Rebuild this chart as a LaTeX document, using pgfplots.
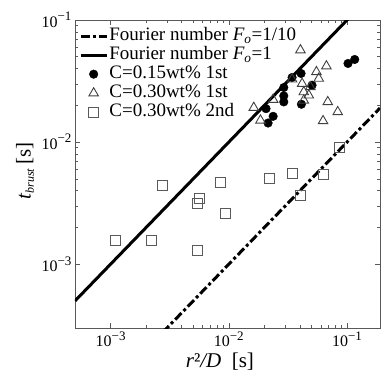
\documentclass[border=0pt]{standalone}
\usepackage{fontspec}
\setmainfont{Liberation Serif}
\usepackage{pgfplots}
\pgfplotsset{compat=1.18}
\newcommand{\legfont}{\fontsize{19}{21}\selectfont}
\newcommand{\tkl}[1]{10\raisebox{0.42em}{\fontsize{13}{13}\selectfont −#1}}
\pgfplotsset{
  linelegend/.style={legend image code/.code={\draw[##1] (0pt,0pt) -- (26pt,0pt);}},
  marklegend/.style={legend image code/.code={\draw[##1] plot coordinates {(13pt,0pt)};}},
}
\begin{document}
\begin{tikzpicture}[x=1pt,y=1pt]
\begin{axis}[
  scale only axis,
  width=305pt, height=308pt,
  xmode=log, ymode=log,
  xmin=5e-4, xmax=0.19, ymin=3e-4, ymax=0.1,
  xtick={0.001,0.01,0.1}, ytick={0.001,0.01,0.1},
  xticklabels={\tkl{3},\tkl{2},\tkl{1}},
  yticklabels={\tkl{3},\tkl{2},\tkl{1}},
  tick label style={font=\fontsize{16}{18}\selectfont, text=black},
  tick align=inside,
  major tick length=5pt, minor tick length=3pt,
  axis line style={gray!70!black, line width=0.8pt},
  tick style={gray!70!black, line width=0.6pt},
  xlabel={\textit{r}²\textit{/D}\hspace{0.5em}[s]},
  ylabel={\textit{t\textsubscript{\fontsize{12}{13}\selectfont brust}}\,[s]},
  label style={font=\fontsize{21}{23}\selectfont},
  xlabel style={at={(axis description cs:0.475,0)}, anchor=center, yshift=-34pt},
  ylabel style={at={(axis description cs:0,0.51)}, anchor=center, yshift=50pt},
  legend style={at={(0.013,0.978)}, anchor=north west, draw=none, fill=none,
    inner sep=0pt, row sep=0.6pt,
    nodes={inner sep=1.2pt, text height=12.5pt, text depth=3.5pt}},
  legend cell align=left,
  clip=true,
]
\addplot[black, line width=3pt, dash pattern=on 9pt off 3pt on 3pt off 3pt, linelegend] coordinates {(5e-4,5e-5) (0.19,0.019)};
\addlegendentry{\legfont Fourier number \textit{F\textsubscript{o}}=1/10}
\addplot[black, line width=3pt, linelegend] coordinates {(5e-4,5e-4) (0.19,0.19)};
\addlegendentry{\legfont Fourier number \textit{F\textsubscript{o}}=1}
\addplot[only marks, mark=*, mark size=4.3pt, black, mark options={fill=black}, marklegend] coordinates {
(0.02064,0.01879) (0.02148,0.01433) (0.02371,0.01626) (0.02917,0.02800)
(0.02917,0.02390) (0.02917,0.02134) (0.03428,0.03381) (0.04083,0.03648)
(0.04112,0.02042) (0.05058,0.02924) (0.1019,0.04406) (0.1161,0.04750)};
\addlegendentry{\legfont C=0.15wt\% 1st}
\addplot[only marks, mark=triangle, mark size=5.5pt, black!75, mark options={line width=0.9pt}, marklegend] coordinates {
(0.01626,0.01914) (0.01853,0.01507) (0.02371,0.02229) (0.03428,0.03273)
(0.04035,0.05666) (0.04168,0.03012) (0.04305,0.02574) (0.04305,0.02198)
(0.04745,0.02421) (0.04898,0.02831) (0.05508,0.03758) (0.05767,0.03316)
(0.06689,0.04188) (0.06870,0.02134) (0.08341,0.01766) (0.06268,0.01490)};
\addlegendentry{\legfont C=0.30wt\% 1st}
\addplot[only marks, mark=square, mark size=5pt, black!65, mark options={line width=0.9pt}, marklegend] coordinates {
(1.09e-3,1.57e-3) (2.22e-3,1.57e-3) (2.75e-3,4.38e-3) (5.47e-3,3.17e-3)
(5.61e-3,3.48e-3) (5.44e-3,1.29e-3) (8.45e-3,4.69e-3) (9.44e-3,2.58e-3)
(0.0222,5.06e-3) (0.0345,5.56e-3) (0.0406,3.65e-3) (0.0631,5.42e-3) (0.0867,9.03e-3)};
\addlegendentry{\legfont C=0.30wt\% 2nd}
\end{axis}
\pgfresetboundingbox
\path (current axis.south west) ++(-75pt,-50pt) coordinate (bbl);
\path (current axis.north east) ++(2pt,20pt) coordinate (bbr);
\path[use as bounding box] (bbl) rectangle (bbr);
\end{tikzpicture}
\end{document}
